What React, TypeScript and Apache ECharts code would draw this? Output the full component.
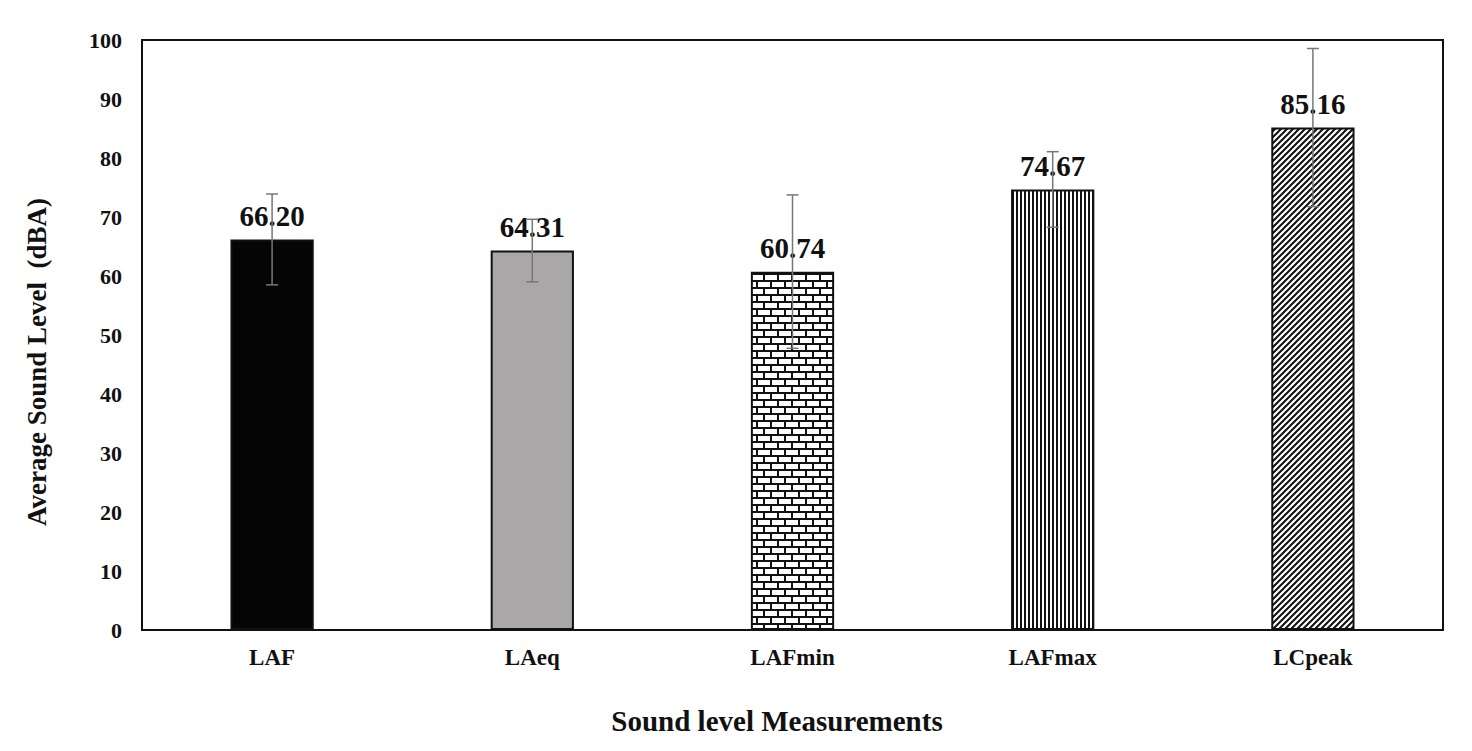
import React, { useEffect, useRef } from "react";
import * as echarts from "echarts";

const categories = ["LAF", "LAeq", "LAFmin", "LAFmax", "LCpeak"];
const means = [66.2, 64.31, 60.74, 74.67, 85.16];
const errors = [7.7, 5.3, 13.0, 6.4, 13.4];
const yTicks = { min: 0, max: 100, interval: 10 };
const yTitle = "Average Sound Level  (dBA)";
const xTitle = "Sound level Measurements";

const FONT = "'Liberation Serif', 'Times New Roman', serif";

function makeCanvas(w: number, h: number, draw: (ctx: CanvasRenderingContext2D) => void) {
  const c = document.createElement("canvas");
  c.width = w;
  c.height = h;
  const ctx = c.getContext("2d")!;
  ctx.fillStyle = "#ffffff";
  ctx.fillRect(0, 0, w, h);
  draw(ctx);
  return c;
}

function brick() {
  return makeCanvas(14, 14, (ctx) => {
    ctx.fillStyle = "#111";
    ctx.fillRect(0, 0, 14, 2);
    ctx.fillRect(0, 7, 14, 2);
    ctx.fillRect(0, 0, 2, 7);
    ctx.fillRect(7, 7, 2, 7);
  });
}

function vstripes() {
  return makeCanvas(4, 4, (ctx) => {
    ctx.fillStyle = "#111";
    ctx.fillRect(0, 0, 2, 4);
  });
}

function diag() {
  return makeCanvas(6, 6, (ctx) => {
    ctx.strokeStyle = "#111";
    ctx.lineWidth = 2;
    ctx.beginPath();
    ctx.moveTo(-3, 9);
    ctx.lineTo(9, -3);
    ctx.moveTo(-3, 3);
    ctx.lineTo(3, -3);
    ctx.moveTo(3, 9);
    ctx.lineTo(9, 3);
    ctx.stroke();
  });
}

export default function App() {
  const ref = useRef<HTMLDivElement>(null);
  useEffect(() => {
    if (!ref.current) return;
    const chart = echarts.init(ref.current, undefined, { renderer: "svg" });
    const fills: any[] = [
      "#050505",
      "#a9a7a7",
      { image: brick(), repeat: "repeat" },
      { image: vstripes(), repeat: "repeat" },
      { image: diag(), repeat: "repeat" },
    ];
    const errData = means.map((m, i) => [i, m - errors[i], m + errors[i]]);
    chart.setOption({
      animation: false,
      backgroundColor: "#ffffff",
      grid: {
        left: 142,
        top: 40,
        right: 29,
        bottom: 121,
        show: true,
        borderColor: "#111",
        borderWidth: 2,
        backgroundColor: "transparent",
      },
      graphic: [
        {
          type: "text",
          x: 37,
          y: 362,
          rotation: Math.PI / 2,
          style: {
            text: yTitle,
            fontFamily: FONT,
            fontWeight: "bold",
            fontSize: 27,
            fill: "#111",
            align: "center",
            verticalAlign: "middle",
          },
        },
        {
          type: "text",
          x: 777,
          y: 721,
          style: {
            text: xTitle,
            fontFamily: FONT,
            fontWeight: "bold",
            fontSize: 29,
            fill: "#111",
            align: "center",
            verticalAlign: "middle",
          },
        },
      ],
      xAxis: {
        type: "category",
        data: categories,
        axisLine: { lineStyle: { color: "#111", width: 2 } },
        axisTick: { show: false },
        axisLabel: { fontFamily: FONT, fontWeight: "bold", fontSize: 23, color: "#111", margin: 16 },
      },
      yAxis: {
        type: "value",
        min: yTicks.min,
        max: yTicks.max,
        interval: yTicks.interval,
        axisLine: { show: true, lineStyle: { color: "#111", width: 2 } },
        axisTick: { show: false },
        splitLine: { show: false },
        axisLabel: { fontFamily: FONT, fontWeight: "bold", fontSize: 22, color: "#111", margin: 20 },
      },
      series: [
        {
          type: "bar",
          z: 2,
          barWidth: "32%",
          data: means.map((v, i) => ({
            value: v,
            itemStyle: { color: fills[i], borderColor: "#111", borderWidth: 2 },
          })),
          label: {
            show: true,
            position: "top",
            distance: 9,
            formatter: (p: any) => p.value.toFixed(2),
            fontFamily: FONT,
            fontWeight: "bold",
            fontSize: 29,
            color: "#111",
          },
        },
        {
          type: "custom",
          z: 5,
          data: errData,
          renderItem: (params: any, api: any) => {
            const x = api.value(0);
            const lo = api.coord([x, api.value(1)]);
            const hi = api.coord([x, api.value(2)]);
            const cx = lo[0];
            const hw = 6;
            const style = { stroke: "#777", lineWidth: 1.5 };
            return {
              type: "group",
              children: [
                { type: "line", shape: { x1: cx, y1: lo[1], x2: cx, y2: hi[1] }, style },
                { type: "line", shape: { x1: cx - hw, y1: lo[1], x2: cx + hw, y2: lo[1] }, style },
                { type: "line", shape: { x1: cx - hw, y1: hi[1], x2: cx + hw, y2: hi[1] }, style },
              ],
            };
          },
        },
      ],
    });
    return () => chart.dispose();
  }, []);
  return (
    <div
      ref={ref}
      style={{ position: "fixed", left: 0, top: 0, width: 1472, height: 751, background: "#fff" }}
    />
  );
}
